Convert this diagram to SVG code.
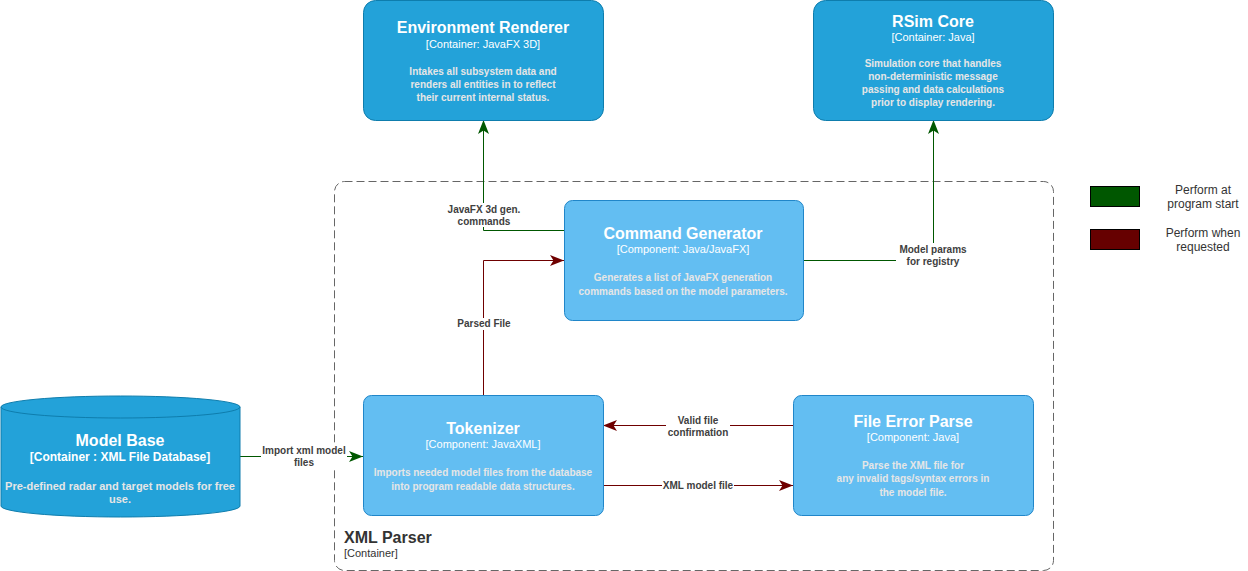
<svg xmlns="http://www.w3.org/2000/svg" width="1248" height="571" viewBox="0 0 1248 571">
<defs>
<style>
.cont{fill:#23A2D9;stroke:#0E7DAD;stroke-width:1}
.comp{fill:#63BEF2;stroke:#2086C9;stroke-width:1}
.t{font-family:"Liberation Sans",Arial,sans-serif;text-anchor:middle;fill:#ffffff}
.title{font-size:16px;font-weight:bold}
.sub{font-size:11px}
.subb{font-size:12px;font-weight:bold}
.desc{font-size:10px;font-weight:bold;fill:#E6E6E6}
.lbl{font-family:"Liberation Sans",Arial,sans-serif;font-size:10px;font-weight:bold;text-anchor:middle;fill:#404040}
.leg{font-family:"Liberation Sans",Arial,sans-serif;font-size:12px;text-anchor:middle;fill:#333333}
.g{fill:none;stroke:#005700;stroke-width:1}
.r{fill:none;stroke:#6F0000;stroke-width:1}
.bg{fill:#ffffff}
</style>
<marker id="ag" viewBox="0 0 14 11" refX="14" refY="5.5" markerWidth="14" markerHeight="11" markerUnits="userSpaceOnUse" orient="auto"><path d="M0,0 L14,5.5 L0,11 L3.5,5.5 Z" fill="#005700"/></marker>
<marker id="ar" viewBox="0 0 14 11" refX="14" refY="5.5" markerWidth="14" markerHeight="11" markerUnits="userSpaceOnUse" orient="auto"><path d="M0,0 L14,5.5 L0,11 L3.5,5.5 Z" fill="#6F0000"/></marker>
</defs>
<rect width="1248" height="571" fill="#ffffff"/>

<g id="xml-parser">
<rect x="334.5" y="181.5" width="719" height="389" rx="10" ry="10" fill="none" stroke="#666666" stroke-dasharray="8 4"/>
<text x="344" y="543" font-family="Liberation Sans,Arial,sans-serif" font-size="16" font-weight="bold" fill="#333333">XML Parser</text>
<text x="344" y="557" font-family="Liberation Sans,Arial,sans-serif" font-size="11" fill="#333333">[Container]</text>
</g>

<g id="connectors">
<path class="g" d="M240,456.5 L363,456.5" marker-end="url(#ag)"/>
<rect class="bg" x="261" y="444" width="86" height="24"/>
<text class="lbl" x="304" y="454">Import xml model</text>
<text class="lbl" x="304" y="466">files</text>

<path class="r" d="M483.5,396 L483.5,260.5 L564,260.5" marker-end="url(#ar)"/>
<rect class="bg" x="454" y="318" width="60" height="12"/>
<text class="lbl" x="484" y="327">Parsed File</text>

<path class="g" d="M564,230.5 L483.5,230.5 L483.5,120" marker-end="url(#ag)"/>
<rect class="bg" x="442" y="203" width="84" height="24"/>
<text class="lbl" x="484" y="213">JavaFX 3d gen.</text>
<text class="lbl" x="484" y="225">commands</text>

<path class="g" d="M803,260.5 L933.5,260.5 L933.5,120" marker-end="url(#ag)"/>
<rect class="bg" x="896" y="243" width="74" height="24"/>
<text class="lbl" x="933" y="253">Model params</text>
<text class="lbl" x="933" y="265">for registry</text>

<path class="r" d="M793,425.5 L603,425.5" marker-end="url(#ar)"/>
<rect class="bg" x="666" y="414" width="64" height="24"/>
<text class="lbl" x="698" y="424">Valid file</text>
<text class="lbl" x="698" y="436">confirmation</text>

<path class="r" d="M603,485.5 L793,485.5" marker-end="url(#ar)"/>
<rect class="bg" x="662" y="480" width="72" height="12"/>
<text class="lbl" x="698" y="489">XML model file</text>
</g>

<g id="environment-renderer">
<rect class="cont" x="363.5" y="0.5" width="240" height="120" rx="12" ry="12"/>
<text class="t title" x="483" y="33">Environment Renderer</text>
<text class="t sub" x="483" y="48">[Container: JavaFX 3D]</text>
<text class="t desc" x="483" y="75">Intakes all subsystem data and</text>
<text class="t desc" x="483" y="88">renders all entities in to reflect</text>
<text class="t desc" x="483" y="101">their current internal status.</text>
</g>

<g id="rsim-core">
<rect class="cont" x="813.5" y="0.5" width="240" height="120" rx="12" ry="12"/>
<text class="t title" x="933" y="27">RSim Core</text>
<text class="t sub" x="933" y="41">[Container: Java]</text>
<text class="t desc" x="933" y="67">Simulation core that handles</text>
<text class="t desc" x="933" y="80">non-deterministic message</text>
<text class="t desc" x="933" y="93">passing and data calculations</text>
<text class="t desc" x="933" y="106">prior to display rendering.</text>
</g>

<g id="command-generator">
<rect class="comp" x="564.5" y="200.5" width="239" height="120" rx="8" ry="8"/>
<text class="t title" x="683" y="239">Command Generator</text>
<text class="t sub" x="683" y="253">[Component: Java/JavaFX]</text>
<text class="t desc" x="683" y="281">Generates a list of JavaFX generation</text>
<text class="t desc" x="683" y="295">commands based on the model parameters.</text>
</g>

<g id="tokenizer">
<rect class="comp" x="363.5" y="395.5" width="240" height="120" rx="8" ry="8"/>
<text class="t title" x="483" y="434">Tokenizer</text>
<text class="t sub" x="483" y="448">[Component: JavaXML]</text>
<text class="t desc" x="483" y="476">Imports needed model files from the database</text>
<text class="t desc" x="483" y="490">into program readable data structures.</text>
</g>

<g id="file-error-parse">
<rect class="comp" x="793.5" y="395.5" width="240" height="120" rx="8" ry="8"/>
<text class="t title" x="913" y="427">File Error Parse</text>
<text class="t sub" x="913" y="441">[Component: Java]</text>
<text class="t desc" x="913" y="469">Parse the XML file for</text>
<text class="t desc" x="913" y="482">any invalid tags/syntax errors in</text>
<text class="t desc" x="913" y="496">the model file.</text>
</g>

<g id="model-base">
<path class="cont" d="M1,407 A119.5,11 0 0 1 240,407 L240,506 A119.5,11 0 0 1 1,506 Z"/>
<path d="M1,407 A119.5,11 0 0 0 240,407" fill="none" stroke="#0E7DAD"/>
<text class="t title" x="120" y="446">Model Base</text>
<text class="t subb" x="120" y="461">[Container : XML File Database]</text>
<text class="t desc" x="120" y="490" style="font-size:11px">Pre-defined radar and target models for free</text>
<text class="t desc" x="120" y="503" style="font-size:11px">use.</text>
</g>

<g id="legend">
<rect x="1090.5" y="186.5" width="49" height="20" fill="#005700" stroke="#000000"/>
<text class="leg" x="1203" y="194">Perform at</text>
<text class="leg" x="1203" y="208">program start</text>
<rect x="1090.5" y="229.5" width="49" height="20" fill="#660000" stroke="#000000"/>
<text class="leg" x="1203" y="237">Perform when</text>
<text class="leg" x="1203" y="251">requested</text>
</g>
</svg>
